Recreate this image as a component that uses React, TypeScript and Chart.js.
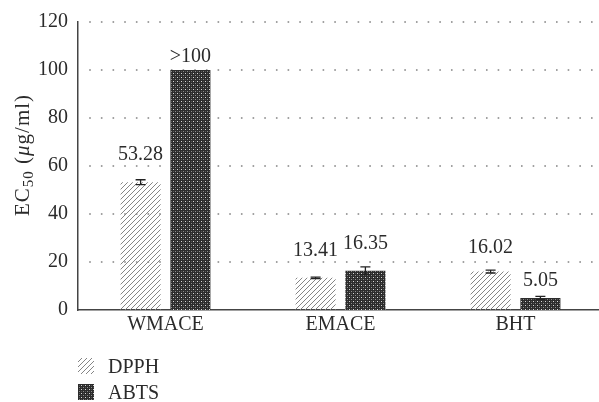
import React, { useEffect, useRef } from "react";
import { Chart, registerables } from "chart.js";
Chart.register(...registerables);

const categories = ["WMACE", "EMACE", "BHT"];
const seriesNames = ["DPPH", "ABTS"];
const dpphValues = [53.28, 13.41, 16.02];
const abtsValues = [100, 16.35, 5.05];
const dpphErrors = [1.0, 0.3, 0.6];
const abtsErrors = [0, 1.6, 0.6];
const dpphLabels = ["53.28", "13.41", "16.02"];
const abtsLabels = [">100", "16.35", "5.05"];
const yTickMin = 0;
const yTickMax = 120;
const yTickStep = 20;

const FONT = "'Liberation Serif', 'DejaVu Serif', serif";
const TEXT = "#2b2b2b";
// pixel lift of each value label above its bar (style)
const dpphLift = [27, 27, 24];
const abtsLift = [13, 27, 17];

function makeHatch(): CanvasPattern | string {
  const c = document.createElement("canvas");
  c.width = 5;
  c.height = 5;
  const g = c.getContext("2d");
  if (!g) return "#ccc";
  g.fillStyle = "#858585";
  for (let x = 0; x < 5; x++) {
    const y = 4 - x;
    g.fillRect(x, y, 1, 1);
  }
  return g.createPattern(c, "repeat") || "#ccc";
}

function makeDots(): CanvasPattern | string {
  const c = document.createElement("canvas");
  c.width = 4;
  c.height = 4;
  const g = c.getContext("2d");
  if (!g) return "#333";
  g.fillStyle = "#2c2c2c";
  g.fillRect(0, 0, 4, 4);
  g.fillStyle = "#d8d8d8";
  g.fillRect(1, 1, 1, 1);
  g.fillStyle = "#8c8c8c";
  g.fillRect(3, 3, 1, 1);
  g.fillStyle = "#555";
  g.fillRect(1, 3, 1, 1);
  g.fillRect(3, 1, 1, 1);
  return g.createPattern(c, "repeat") || "#333";
}

export default function App() {
  const ref = useRef<HTMLCanvasElement | null>(null);

  useEffect(() => {
    if (!ref.current) return;
    const hatch = makeHatch();
    const dots = makeDots();
    const fills = [hatch, dots];
    const errors = [dpphErrors, abtsErrors];
    const labels = [dpphLabels, abtsLabels];
    const lifts = [dpphLift, abtsLift];
    const values = [dpphValues, abtsValues];

    const overlay = {
      id: "overlay",
      beforeDatasetsDraw(chart: any) {
        const { ctx, chartArea } = chart;
        const ys = chart.scales.y;
        ctx.save();
        ctx.fillStyle = "#8a8a8a";
        for (let v = yTickMin + yTickStep; v <= yTickMax; v += yTickStep) {
          const y = ys.getPixelForValue(v);
          for (let x = chartArea.left + 12; x <= chartArea.right; x += 11.67) {
            ctx.fillRect(x - 0.8, y - 0.8, 1.6, 1.6);
          }
        }
        ctx.restore();
      },
      afterDatasetsDraw(chart: any) {
        const { ctx } = chart;
        const ys = chart.scales.y;
        ctx.save();
        for (let d = 0; d < 2; d++) {
          const meta = chart.getDatasetMeta(d);
          meta.data.forEach((bar: any, i: number) => {
            const v = values[d][i];
            const e = errors[d][i];
            if (e > 0) {
              const yt = ys.getPixelForValue(v + e);
              const yb = ys.getPixelForValue(v - e);
              ctx.strokeStyle = "#222";
              ctx.lineWidth = 1.3;
              ctx.beginPath();
              ctx.moveTo(bar.x, yt);
              ctx.lineTo(bar.x, yb);
              ctx.moveTo(bar.x - 5, yt);
              ctx.lineTo(bar.x + 5, yt);
              ctx.moveTo(bar.x - 5, yb);
              ctx.lineTo(bar.x + 5, yb);
              ctx.stroke();
            }
            ctx.fillStyle = TEXT;
            ctx.font = `20px ${FONT}`;
            ctx.textAlign = "center";
            ctx.textBaseline = "middle";
            ctx.fillText(labels[d][i], bar.x, bar.y - lifts[d][i]);
          });
        }
        ctx.restore();
      },
      afterDraw(chart: any) {
        const { ctx, chartArea } = chart;
        ctx.save();
        // axis title
        const segs = [
          { t: "EC", f: `21px ${FONT}`, dy: 0 },
          { t: "50", f: `15px ${FONT}`, dy: 4 },
          { t: " (", f: `21px ${FONT}`, dy: 0 },
          { t: "\u03bc", f: `italic 21px ${FONT}`, dy: 0 },
          { t: "g/ml)", f: `21px ${FONT}`, dy: 0 },
        ];
        const spacing = 1;
        let total = 0;
        const widths = segs.map((s) => {
          ctx.font = s.f;
          const w = ctx.measureText(s.t).width + spacing * s.t.length;
          total += w;
          return w;
        });
        const cy = (chartArea.top + chartArea.bottom) / 2 - 11;
        ctx.translate(29, cy);
        ctx.rotate(-Math.PI / 2);
        ctx.fillStyle = TEXT;
        ctx.textAlign = "left";
        ctx.textBaseline = "alphabetic";
        let x = -total / 2;
        segs.forEach((s, i) => {
          ctx.font = s.f;
          let cx = x;
          for (const ch of s.t) {
            ctx.fillText(ch, cx, s.dy);
            cx += ctx.measureText(ch).width + spacing;
          }
          x += widths[i];
        });
        ctx.restore();

        // legend
        ctx.save();
        const rows = [373, 399];
        seriesNames.forEach((name, i) => {
          const base = rows[i];
          ctx.fillStyle = fills[i] as any;
          ctx.fillRect(78, base - 15, 16, 16);
          ctx.fillStyle = TEXT;
          ctx.font = `20px ${FONT}`;
          ctx.textAlign = "left";
          ctx.textBaseline = "alphabetic";
          ctx.fillText(name, 108, base);
        });
        ctx.restore();
      },
    };

    const chart = new Chart(ref.current, {
      type: "bar",
      data: {
        labels: categories,
        datasets: [
          {
            label: seriesNames[0],
            data: dpphValues,
            backgroundColor: hatch as any,
            borderWidth: 0,
            categoryPercentage: 0.569,
            barPercentage: 0.804,
          },
          {
            label: seriesNames[1],
            data: abtsValues,
            backgroundColor: dots as any,
            borderWidth: 0,
            categoryPercentage: 0.569,
            barPercentage: 0.804,
          },
        ],
      },
      options: {
        animation: false,
        responsive: true,
        maintainAspectRatio: false,
        layout: { padding: { left: 0, top: 22, right: 7, bottom: 62 } },
        plugins: {
          legend: { display: false },
          tooltip: { enabled: false },
        },
        scales: {
          x: {
            grid: { display: false, drawTicks: false },
            border: { display: true, color: "#444", width: 1.5 },
            ticks: { color: TEXT, font: { family: FONT, size: 20 }, padding: 3 },
            afterFit: (s: any) => {
              s.height = 30;
            },
          },
          y: {
            min: yTickMin,
            max: yTickMax,
            grid: { display: false, drawTicks: false },
            border: { display: true, color: "#444", width: 1.5 },
            ticks: {
              stepSize: yTickStep,
              color: TEXT,
              font: { family: FONT, size: 20 },
              padding: 10,
            },
            afterFit: (s: any) => {
              s.width = 78;
            },
          },
        },
      },
      plugins: [overlay],
    });
    return () => chart.destroy();
  }, []);

  return (
    <div
      style={{
        position: "fixed",
        left: 0,
        top: 0,
        width: 599,
        height: 402,
        overflow: "hidden",
        background: "#fff",
      }}
    >
      <div style={{ position: "absolute", left: 0, top: 0, width: 610, height: 402 }}>
        <canvas ref={ref} />
      </div>
    </div>
  );
}
